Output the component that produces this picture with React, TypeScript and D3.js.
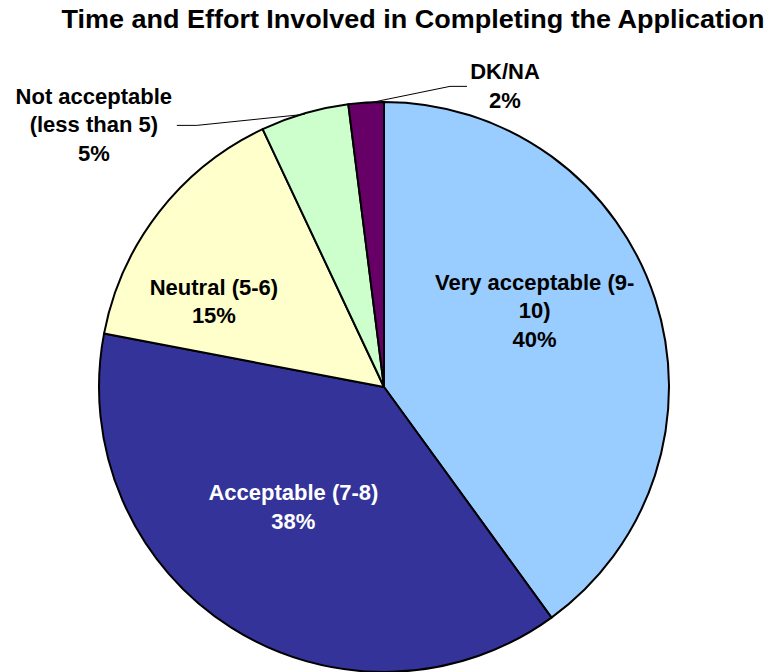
import React from "react";
import * as d3 from "d3";

const categories = [
  "Very acceptable (9-10)",
  "Acceptable (7-8)",
  "Neutral (5-6)",
  "Not acceptable (less than 5)",
  "DK/NA",
];
const values = [40, 38, 15, 5, 2];
const labelLines = [
  ["Very acceptable (9-", "10)", "40%"],
  ["Acceptable (7-8)", "38%"],
  ["Neutral (5-6)", "15%"],
  ["Not acceptable", "(less than 5)", "5%"],
  ["DK/NA", "2%"],
];
const colors = ["#99CCFF", "#333399", "#FFFFCC", "#CCFFCC", "#660066"];
const textColors = ["#000", "#fff", "#000", "#000", "#000"];
const title = "Time and Effort Involved in Completing the Application";

const W = 774;
const H = 672;
const cx = 384;
const cy = 387;
const R = 285;
// label layout: radius factor and offsets relative to that anchor point
const labelRadius = [0.6, 0.6, 0.6, 1.09, 1.09];
const labelOffsets: [number, number][] = [
  [-12, -16],
  [1, -17],
  [-35, 27],
  [-203.5, 43.7],
  [140.5, 16.4],
];
// leader elbow relative to label centre: [elbowDx, elbowDy, horizontal length direction]
const leaderElbow: ([number, number, number] | null)[] = [
  null,
  null,
  null,
  [103, -7, -20],
  [-55, -7, 17],
];

export default function App() {
  const pie = d3.pie<number>().sort(null).value((d) => d)(values);
  const arc = d3.arc<d3.PieArcDatum<number>>().innerRadius(0).outerRadius(R);
  const font = "'Liberation Sans', Arial, sans-serif";
  const lh = 28.5;

  const polar = (a: number, r: number): [number, number] => [
    Math.sin(a) * r,
    -Math.cos(a) * r,
  ];

  return (
    <svg
      width={W}
      height={H}
      style={{ position: "absolute", left: 0, top: 0, background: "#fff" }}
    >
      <text
        x={413}
        y={28}
        textAnchor="middle"
        fontFamily={font}
        fontWeight="bold"
        fontSize={26}
        textLength={703}
        lengthAdjust="spacingAndGlyphs"
      >
        {title}
      </text>
      <g transform={`translate(${cx},${cy})`}>
        {pie.map((p, i) => (
          <path
            key={categories[i]}
            d={arc(p) || ""}
            fill={colors[i]}
            stroke="#000"
            strokeWidth={2}
            strokeLinejoin="round"
          />
        ))}
        {pie.map((p, i) => {
          const mid = (p.startAngle + p.endAngle) / 2;
          const lines = labelLines[i];
          const [ax, ay] = polar(mid, R * labelRadius[i]);
          const x = ax + labelOffsets[i][0];
          const y = ay + labelOffsets[i][1];
          let leader: string | null = null;
          const el = leaderElbow[i];
          if (el) {
            const [ex, ey] = polar(mid, R - 1);
            const kx = x + el[0];
            const ky = y + el[1];
            leader = `M${ex},${ey}L${kx},${ky}L${kx + el[2]},${ky}`;
          }
          const n = lines.length;
          return (
            <g key={"l" + i}>
              {leader && (
                <path d={leader} fill="none" stroke="#000" strokeWidth={1} />
              )}
              <text
                textAnchor="middle"
                fontFamily={font}
                fontWeight="bold"
                fontSize={22}
                fill={textColors[i]}
              >
                {lines.map((t, j) => (
                  <tspan key={j} x={x} y={y + (j - (n - 1) / 2) * lh}>
                    {t}
                  </tspan>
                ))}
              </text>
            </g>
          );
        })}
      </g>
    </svg>
  );
}
